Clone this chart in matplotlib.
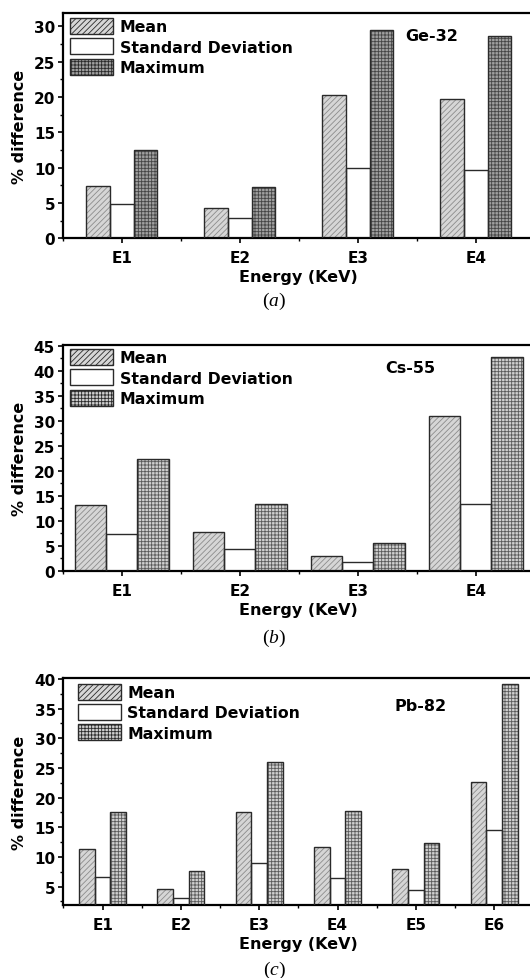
import matplotlib
matplotlib.use("Agg")
import matplotlib.pyplot as plt
from matplotlib.ticker import MultipleLocator
from matplotlib.patches import Patch
import numpy as np

plt.rcParams['font.family'] = 'DejaVu Sans'
plt.rcParams['mathtext.fontset'] = 'custom'
plt.rcParams['mathtext.rm'] = 'Liberation Serif'
plt.rcParams['mathtext.it'] = 'Liberation Serif:italic'
plt.rcParams['hatch.linewidth'] = 0.6

series_names = ['Mean', 'Standard Deviation', 'Maximum']

# (a) Ge-32
ge_labels = ['E1', 'E2', 'E3', 'E4']
ge_mean = [7.4, 4.3, 20.3, 19.7]
ge_std = [4.9, 2.9, 9.9, 9.6]
ge_max = [12.5, 7.3, 29.5, 28.7]

# (b) Cs-55
cs_labels = ['E1', 'E2', 'E3', 'E4']
cs_mean = [13.1, 7.8, 2.9, 30.9]
cs_std = [7.3, 4.4, 1.8, 13.3]
cs_max = [22.3, 13.4, 5.5, 42.7]

# (c) Pb-82
pb_labels = ['E1', 'E2', 'E3', 'E4', 'E5', 'E6']
pb_mean = [11.3, 4.6, 17.6, 11.6, 8.0, 22.7]
pb_std = [6.7, 3.0, 9.0, 6.4, 4.4, 14.5]
pb_max = [17.6, 7.7, 26.0, 17.7, 12.3, 39.2]

W, H = 530, 979
fig = plt.figure(figsize=(W / 100, H / 100), dpi=100)


def px_axes(left, top, right, bottom):
    return fig.add_axes([left / W, 1 - bottom / H, (right - left) / W, (bottom - top) / H])


mean_style = dict(face='#d6d6d6', hatch='//////', hcol='#8c8c8c')
std_style = dict(face='white', hatch=None, hcol='#333333')


def panel(ax, labels, mean, std, mx, width, ylim, yticks, name, name_xy, max_style, leg_anchor):
    styles = [mean_style, std_style, max_style]
    x = np.arange(1, len(labels) + 1)
    for i, vals in enumerate([mean, std, mx]):
        st = styles[i]
        pos = x + (i - 1) * width
        ax.bar(pos, vals, width, color=st['face'], edgecolor=st['hcol'],
               hatch=st['hatch'], linewidth=0, zorder=2)
        ax.bar(pos, vals, width, fill=False, edgecolor='#2a2a2a',
               linewidth=1.0, zorder=3)
    ax.set_xlim(0.5, len(labels) + 0.5)
    ax.set_ylim(*ylim)
    ax.set_xticks(x)
    ax.set_xticklabels(labels)
    ax.xaxis.set_minor_locator(MultipleLocator(1.0, offset=0.5))
    ax.set_yticks(yticks)
    ax.yaxis.set_minor_locator(MultipleLocator(2.5))
    ax.tick_params(axis='both', which='major', direction='out', length=3.5, width=1.2,
                   labelsize=11)
    ax.tick_params(axis='both', which='minor', direction='out', length=2, width=1)
    ax.tick_params(axis='x', pad=5)
    ax.tick_params(axis='y', pad=2)
    for lab in ax.get_xticklabels() + ax.get_yticklabels():
        lab.set_fontweight('bold')
    for s in ['left', 'bottom', 'top']:
        ax.spines[s].set_linewidth(1.6)
    ax.spines['right'].set_visible(False)
    ax.set_xlabel('Energy (KeV)', fontsize=11.5, fontweight='bold', labelpad=3)
    ax.set_ylabel('% difference', fontsize=11.5, fontweight='bold', labelpad=5)
    ax.text(name_xy[0], name_xy[1], name, transform=ax.transAxes, fontsize=11.5,
            fontweight='bold', ha='center', va='center')
    handles = []
    for i, lab in enumerate(series_names):
        st = styles[i]
        handles.append(Patch(facecolor=st['face'], edgecolor='#2a2a2a', hatch=st['hatch'],
                             linewidth=1.0, label=lab))
    ax.legend(handles=handles, loc='upper left', bbox_to_anchor=leg_anchor,
              frameon=False, prop={'size': 11.3, 'weight': 'bold'},
              handlelength=2.75, handleheight=1.2,
              handletextpad=0.4, labelspacing=0.25, borderpad=0, borderaxespad=0)


ax_a = px_axes(62.7, 14, 534.7, 239.3)
panel(ax_a, ge_labels, ge_mean, ge_std, ge_max, 0.2, (0, 31.9), [0, 5, 10, 15, 20, 25, 30],
      'Ge-32', (0.781, 0.899), dict(face='#a0a0a0', hatch='+++++', hcol='#454545'),
      (7.5 / 472, 1 - 5 / 225))

ax_b = px_axes(62.7, 346, 534.7, 571.7)
panel(ax_b, cs_labels, cs_mean, cs_std, cs_max, 0.8 / 3, (0, 45.1), [0, 5, 10, 15, 20, 25, 30, 35, 40, 45],
      'Cs-55', (0.736, 0.901), dict(face='#cfcfcf', hatch='+++++', hcol='#5a5a5a'),
      (7.5 / 472, 1 - 4 / 225))

ax_c = px_axes(63.4, 679.3, 533.4, 906)
panel(ax_c, pb_labels, pb_mean, pb_std, pb_max, 0.2, (1.9, 40.1), [5, 10, 15, 20, 25, 30, 35, 40],
      'Pb-82', (0.76, 0.879), dict(face='#cfcfcf', hatch='+++++', hcol='#5a5a5a'),
      (14.5 / 470, 1 - 5.5 / 226))

for letter, ypx in [('a', 301.7), ('b', 638), ('c', 970)]:
    fig.text(274 / W, 1 - ypx / H, r'$(%s)$' % letter, fontsize=14,
             ha='center', va='center')

fig.savefig('out.png', dpi=100)
